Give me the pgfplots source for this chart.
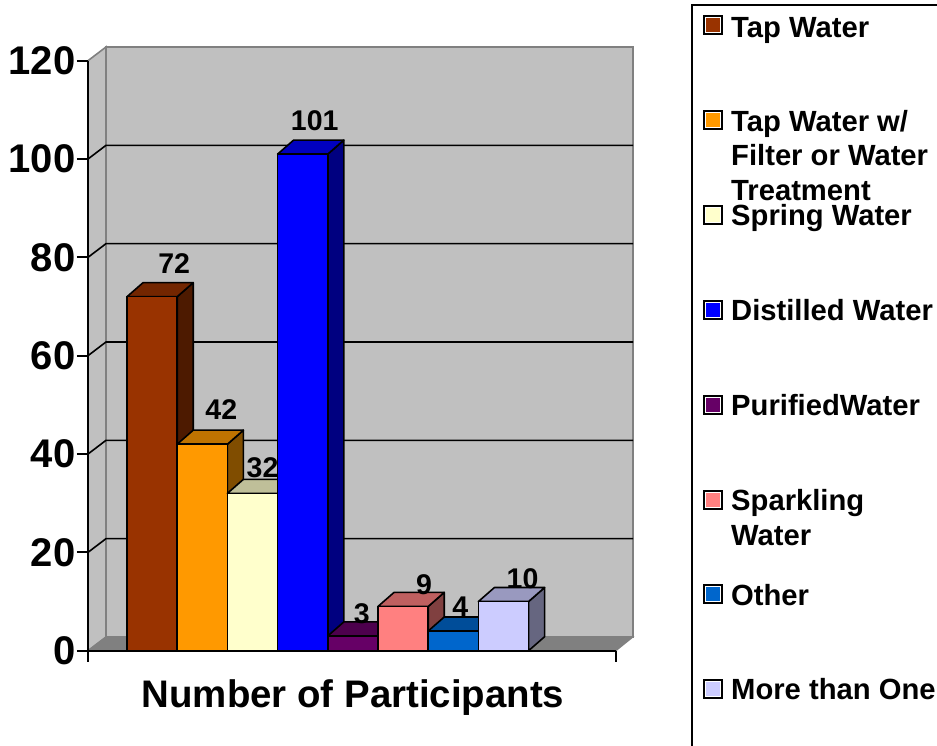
\documentclass[border=0pt]{standalone}
\usepackage{fontspec}
\setmainfont{Liberation Sans}
\usepackage{pgfplots}
\pgfplotsset{compat=1.18}

\definecolor{wall}{HTML}{C0C0C0}
\definecolor{floorgray}{HTML}{808080}
\definecolor{tap}{HTML}{993300}      \definecolor{tapside}{HTML}{4D1A00}    \definecolor{taptop}{HTML}{732600}
\definecolor{filter}{HTML}{FF9900}   \definecolor{filterside}{HTML}{804D00} \definecolor{filtertop}{HTML}{BF7300}
\definecolor{spring}{HTML}{FFFFCC}   \definecolor{springside}{HTML}{808066} \definecolor{springtop}{HTML}{BFBF99}
\definecolor{distilled}{HTML}{0000FF}\definecolor{distilledside}{HTML}{000080}\definecolor{distilledtop}{HTML}{0000BF}
\definecolor{purified}{HTML}{660066} \definecolor{purifiedside}{HTML}{330033}\definecolor{purifiedtop}{HTML}{4D004D}
\definecolor{sparkling}{HTML}{FF8080}\definecolor{sparklingside}{HTML}{804040}\definecolor{sparklingtop}{HTML}{BF6060}
\definecolor{other}{HTML}{0066CC}    \definecolor{otherside}{HTML}{003366}  \definecolor{othertop}{HTML}{004D99}
\definecolor{several}{HTML}{CCCCFF}  \definecolor{severalside}{HTML}{666680}\definecolor{severaltop}{HTML}{9999BF}

% One bar in oblique projection: side face, top face, then the front face with its value.
% #1 slot index, #2 value, #3 colour base name, #4/#5 label offset from the bar's top centre
\newcommand{\obliquebar}[5]{%
  \pgfmathsetmacro{\xa}{#1}%
  \pgfmathsetmacro{\xb}{#1+1}%
  \pgfmathsetmacro{\xc}{#1+0.5}%
  \pgfmathsetmacro{\xd}{#1+1+0.319}%
  \pgfmathsetmacro{\xe}{#1+0.319}%
  \pgfmathsetmacro{\yt}{#2+2.85}%
  \addplot[fill=#3side, draw=black, line width=1.6pt, line join=round]
    coordinates {(\xb,0) (\xd,2.85) (\xd,\yt) (\xb,#2)} -- cycle;
  \addplot[fill=#3top, draw=black, line width=1.6pt, line join=round]
    coordinates {(\xa,#2) (\xe,\yt) (\xd,\yt) (\xb,#2)} -- cycle;
  \addplot[ybar, bar width=50.2pt, bar shift=0pt, fill=#3, draw=black, line width=1.6pt,
    nodes near coords={\pgfmathprintnumber[assume math mode=true]{\pgfplotspointmeta}},
    nodes near coords style={font=\bfseries\fontsize{28.5}{32}\selectfont, text=black,
      anchor=center, xshift=#4pt, yshift=#5pt}]
    coordinates {(\xc,#2)};
}

% One legend row: swatch centred at height #1 (measured from the page top)
\newcommand{\legendswatch}[2]{%
  \fill[black] (703,746-#1-9.8) rectangle (723,746-#1+9.8);
  \fill[white] (705,746-#1-7.8) rectangle (721,746-#1+7.8);
  \fill[#2] (706,746-#1-6.8) rectangle (720,746-#1+6.8);
}
\newcommand{\legendtext}[2]{%
  \node[anchor=base west, inner sep=0pt, font=\bfseries\fontsize{29.2}{35}\selectfont]
    at (731,745.2-#1) {#2};
}

\begin{document}
\begin{tikzpicture}[x=1pt, y=1pt]
\path[use as bounding box] (0,0) rectangle (937,746);

\begin{axis}[
  at={(88pt,95.3pt)}, anchor=south west,
  scale only axis, width=528pt, height=590pt,
  xmin=-0.777, xmax=9.741, ymin=0, ymax=120,
  clip=false, axis on top,
  axis x line*=bottom, axis y line*=left,
  axis line style={black, line width=1.8pt},
  xtick={-0.777,9.741}, xticklabels={,},
  ytick={0,20,40,60,80,100,120},
  tick align=outside, major tick length=11pt,
  tick style={black, line width=1.8pt},
  yticklabel style={font=\bfseries\fontsize{40}{44}\selectfont,
    /pgf/number format/assume math mode=true},
  every y tick label/.append style={xshift=2pt},
  xlabel={Number of Participants},
  every axis x label/.style={at={(axis description cs:0.5,0)}, anchor=center,
    xshift=1pt, yshift=-46.5pt, font=\bfseries\fontsize{38.4}{44}\selectfont},
]
% Chart walls and floor
\addplot[fill=wall, draw=floorgray, line width=1.6pt]
  coordinates {(-0.418,2.79) (-0.418,122.79) (10.08,122.79) (10.08,2.79)} -- cycle;
\addplot[fill=wall, draw=floorgray, line width=1.6pt]
  coordinates {(-0.777,0) (-0.418,2.79) (-0.418,122.79) (-0.777,120)} -- cycle;
\addplot[fill=floorgray, draw=floorgray, line width=1pt]
  coordinates {(-0.777,0) (-0.418,2.79) (10.08,2.79) (9.741,0)} -- cycle;

% Grid lines run up the side wall and across the back wall
\addplot[black, line width=1.6pt] coordinates {(-0.777,20) (-0.418,22.79) (10.08,22.79)};
\addplot[black, line width=1.6pt] coordinates {(-0.777,40) (-0.418,42.79) (10.08,42.79)};
\addplot[black, line width=1.6pt] coordinates {(-0.777,60) (-0.418,62.79) (10.08,62.79)};
\addplot[black, line width=1.6pt] coordinates {(-0.777,80) (-0.418,82.79) (10.08,82.79)};
\addplot[black, line width=1.6pt] coordinates {(-0.777,100) (-0.418,102.79) (10.08,102.79)};

% Bars, left to right
\obliquebar{0}{72}{tap}{22}{33}
\obliquebar{1}{42}{filter}{19}{35}
\obliquebar{2}{32}{spring}{10}{26}
\obliquebar{3}{101}{distilled}{12}{33}
\obliquebar{4}{3}{purified}{9}{22}
\obliquebar{5}{9}{sparkling}{21}{22}
\obliquebar{6}{4}{other}{7}{24}
\obliquebar{7}{10}{several}{19}{23}
\end{axis}

% Legend frame runs off the page on the right and at the bottom
\draw[black, line width=1.8pt] (692,0) -- (692,741) -- (937,741);

\legendswatch{25}{tap}
\legendswatch{120}{filter}
\legendswatch{215}{spring}
\legendswatch{310}{distilled}
\legendswatch{405}{purified}
\legendswatch{500}{sparkling}
\legendswatch{594}{other}
\legendswatch{689}{several}

\legendtext{36.7}{Tap Water}
\legendtext{130.7}{Tap Water w/}
\legendtext{165}{Filter or Water}
\legendtext{200}{Treatment}
\legendtext{224.5}{Spring Water}
\legendtext{320}{Distilled Water}
\legendtext{414.5}{PurifiedWater}
\legendtext{510}{Sparkling}
\legendtext{545}{Water}
\legendtext{604.5}{Other}
\legendtext{699}{More than One}
\end{tikzpicture}
\end{document}
